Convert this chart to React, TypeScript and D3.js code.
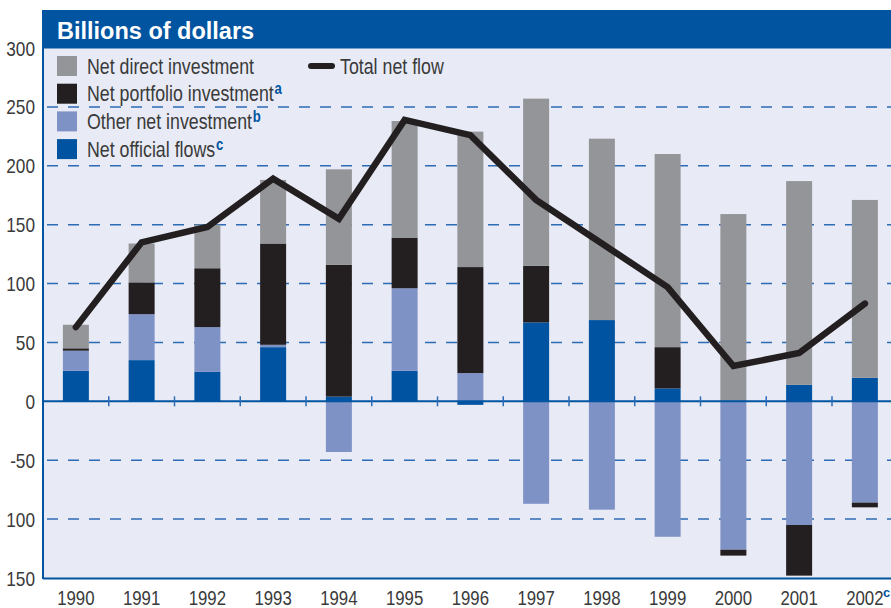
import * as d3 from 'd3';
import type { ReactNode } from 'react';

const years = ['1990', '1991', '1992', '1993', '1994', '1995', '1996', '1997', '1998', '1999', '2000', '2001', '2002'];
const yearNotes = ['', '', '', '', '', '', '', '', '', '', '', '', 'c'];

// billions of dollars
const officialFlows = [26, 35, 25, 46, 4, 26, -3, 67, 69, 11, 0, 14, 20];
const otherInvestment = [17, 39, 38, 2, -43, 70, 24, -87, -92, -115, -126, -105, -86];
const portfolioInvestment = [2, 27, 50, 86, 112, 43, 90, 48, 0, 35, -5, -43, -4];
const directInvestment = [20, 33, 37, 54, 81, 99, 115, 142, 154, 164, 159, 173, 151];
const totalNetFlow = [63, 135, 148, 189, 155, 239, 226, 171, 134, 97, 30, 41, 83];

const yTicks = [300, 250, 200, 150, 100, 50, 0, -50, -100, -150];
const yTickLabels = ['300', '250', '200', '150', '100', '50', '0', '-50', '100', '150'];
const gridValues = [250, 200, 150, 100, 50, -50, -100];

const seriesKeys = ['official', 'other', 'portfolio', 'direct'];
const legendLabels = ['Net direct investment', 'Net portfolio investment', 'Other net investment', 'Net official flows'];
const legendNotes = ['', 'a', 'b', 'c'];
const legendKeys = ['direct', 'portfolio', 'other', 'official'];

const colors: Record<string, string> = {
  official: '#0053a0',
  other: '#7f92c6',
  portfolio: '#231f20',
  direct: '#949598',
};

const W = 891;
const H = 608;
const left = 43;
const right = 43 + 13 * 65.75;
const top = 48;
const bottom = 578;

const SANS = "'Liberation Sans', Arial, sans-serif";
const TEXT = '#3a3a3a';
const BLUE = '#0054a0';
const SQUEEZE = 0.82;

// condensed text: Liberation Sans squeezed horizontally
function NText(props: {
  x: number;
  y: number;
  size: number;
  anchor?: 'start' | 'middle' | 'end';
  dy?: string;
  children: ReactNode;
}) {
  return (
    <text
      transform={`translate(${props.x},${props.y}) scale(${SQUEEZE},1)`}
      textAnchor={props.anchor || 'start'}
      dy={props.dy}
      fontFamily={SANS}
      fontSize={props.size}
      fill={TEXT}
    >
      {props.children}
    </text>
  );
}

export default function App() {
  const rows = years.map((y, i) => ({
    year: y,
    official: officialFlows[i],
    other: otherInvestment[i],
    portfolio: portfolioInvestment[i],
    direct: directInvestment[i],
  }));

  const x = d3.scaleBand<string>().domain(years).range([left, right]).paddingInner(0).paddingOuter(0);
  const y = d3.scaleLinear().domain([-150, 300]).range([bottom, top]);
  const barW = 26;

  const stacked = d3
    .stack<any>()
    .keys(seriesKeys)
    .offset(d3.stackOffsetDiverging)(rows);

  const line = d3
    .line<number>()
    .x((_, i) => (x(years[i]) as number) + x.bandwidth() / 2)
    .y(d => y(d));

  return (
    <svg width={W} height={H} style={{ position: 'absolute', left: 0, top: 0, background: '#fff' }}>
      <rect x={left} y={top} width={W - left} height={bottom - top} fill="#e8ebf5" />

      {/* grid */}
      {gridValues.map(v => (
        <line
          key={v}
          x1={left}
          x2={W}
          y1={y(v)}
          y2={y(v)}
          stroke="#2c6bb5"
          strokeWidth={1.5}
          strokeDasharray="11,10"
          strokeDashoffset={-4}
        />
      ))}

      {/* bars */}
      {stacked.map(s => (
        <g key={s.key} fill={colors[s.key]}>
          {s.map((d, i) => {
            const h = Math.abs(y(d[0]) - y(d[1]));
            if (h < 0.01) return null;
            return (
              <rect
                key={i}
                x={(x(years[i]) as number) + (x.bandwidth() - barW) / 2}
                y={Math.min(y(d[0]), y(d[1]))}
                width={barW}
                height={h}
              />
            );
          })}
        </g>
      ))}

      {/* zero line and ticks */}
      <line x1={left} x2={W} y1={y(0)} y2={y(0)} stroke={BLUE} strokeWidth={2} />
      {years.slice(1).map(yr => (
        <line
          key={yr}
          x1={x(yr) as number}
          x2={x(yr) as number}
          y1={y(0) - 5}
          y2={y(0) + 5}
          stroke="#2c6bb5"
          strokeWidth={1.5}
        />
      ))}

      {/* axes frame */}
      <line x1={left} x2={left} y1={top} y2={bottom + 1} stroke={BLUE} strokeWidth={2} />
      <line x1={left} x2={W} y1={bottom + 0.5} y2={bottom + 0.5} stroke={BLUE} strokeWidth={2} />

      {/* total net flow */}
      <path
        d={line(totalNetFlow) || ''}
        fill="none"
        stroke="#231f20"
        strokeWidth={6.5}
        strokeLinecap="round"
        strokeLinejoin="miter"
      />

      {/* header */}
      <rect x={42} y={10} width={W - 42} height={38.5} fill={BLUE} />
      <text x={57} y={39} fill="#fff" fontFamily={SANS} fontWeight="bold" fontSize={23.5}>
        Billions of dollars
      </text>

      {/* y labels */}
      {yTicks.map((v, i) => (
        <NText key={v} x={35} y={y(v)} dy="0.36em" anchor="end" size={21}>
          {yTickLabels[i]}
        </NText>
      ))}

      {/* x labels */}
      {years.map((yr, i) => {
        const cx = (x(yr) as number) + x.bandwidth() / 2;
        return (
          <g key={yr}>
            <NText x={cx} y={605} anchor="middle" size={20.5}>
              {yr}
            </NText>
            {yearNotes[i] && (
              <text x={cx + 18} y={597} fontFamily={SANS} fontWeight="bold" fontSize={13} fill={BLUE}>
                {yearNotes[i]}
              </text>
            )}
          </g>
        );
      })}

      {/* legend */}
      {legendKeys.map((k, i) => {
        const ly = 56 + i * 27.7;
        return (
          <g key={k}>
            <rect x={57} y={ly} width={20} height={20} fill={colors[k]} />
            <NText x={87} y={ly + 17.5} size={21.7}>
              {legendLabels[i]}
              {legendNotes[i] && (
                <tspan dx={1} dy={-7} fontWeight="bold" fontSize={16} fill={BLUE}>
                  {legendNotes[i]}
                </tspan>
              )}
            </NText>
          </g>
        );
      })}
      <line x1={311} x2={332} y1={66} y2={66} stroke="#231f20" strokeWidth={6} strokeLinecap="round" />
      <NText x={340} y={73.5} size={21.7}>
        Total net flow
      </NText>
    </svg>
  );
}
